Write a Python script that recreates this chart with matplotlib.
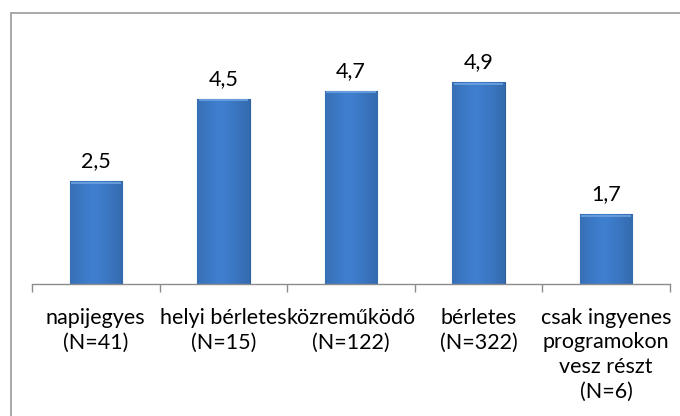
import numpy as np
import matplotlib
matplotlib.use('Agg')
import matplotlib.pyplot as plt
from matplotlib.patches import Rectangle

plt.rcParams['font.family'] = ['Lato', 'DejaVu Sans']

#%% data
categories = ['napijegyes\n(N=41)', 'helyi bérletes\n(N=15)', 'közreműködő\n(N=122)',
              'bérletes\n(N=322)', 'csak ingyenes\nprogramokon\nvesz részt\n(N=6)']
values = [2.5, 4.5, 4.7, 4.9, 1.7]
value_labels = ['2,5', '4,5', '4,7', '4,9', '1,7']

#%% figure
dpi = 100
width, height = 680, 416
fig = plt.figure(figsize=(width/dpi, height/dpi), dpi=dpi)

# outer chart frame (runs off the right and bottom edges)
fig.patches.append(Rectangle((11/width, -0.05), 1.1, 1 - 13/height + 0.05,
                             transform=fig.transFigure, fill=False,
                             edgecolor='#999999', linewidth=1.2))

ax = fig.add_axes([32/width, 132/height, 638/width, 247/height])
x = np.arange(len(values))
bw = 0.41
bars = ax.bar(x, values, width=bw, color='#3b77c2', edgecolor='#2f5e9c', linewidth=0.8, zorder=2)

# horizontal gradient inside each bar, a bit of a bevel look
grad = np.linspace(0, 1, 64)
shade = 1 - 0.35 * np.abs(grad - 0.45) ** 1.3
base = np.array([0x3f, 0x7f, 0xcf]) / 255
img = (shade[:, None] * base[None, :])[None, :, :]
for b in bars:
    x0, y0 = b.get_x(), b.get_y()
    im = ax.imshow(img, extent=[x0, x0 + b.get_width(), y0, y0 + b.get_height()],
                   aspect='auto', zorder=2.5, interpolation='bicubic')
    im.set_clip_path(b)
    ax.plot([x0 + 0.01, x0 + b.get_width() - 0.01], [b.get_height() - 0.04] * 2,
            color='#6fa3e0', linewidth=1.2, zorder=3, solid_capstyle='butt')

for xi, v, lab in zip(x, values, value_labels):
    ax.annotate(lab, (xi, v), xytext=(0, 7), textcoords='offset points',
                ha='center', va='bottom', fontsize=15.5, color='black')

ax.set_xlim(-0.5, len(values) - 0.5)
ax.set_ylim(0, 6)
ax.set_xticks(x)
ax.set_xticklabels(categories, fontsize=15.5, linespacing=1.3, va='top')
ax.set_xticks(np.arange(-0.5, len(values)), minor=True)
ax.tick_params(axis='x', which='major', length=0, pad=17)
ax.tick_params(axis='x', which='minor', length=6, color='#8c8c8c', width=1)
ax.set_yticks([])
for s in ['left', 'right', 'top']:
    ax.spines[s].set_visible(False)
ax.spines['bottom'].set_color('#8c8c8c')
ax.spines['bottom'].set_linewidth(1)
ax.patch.set_visible(False)

plt.savefig('out.png', dpi=dpi)
